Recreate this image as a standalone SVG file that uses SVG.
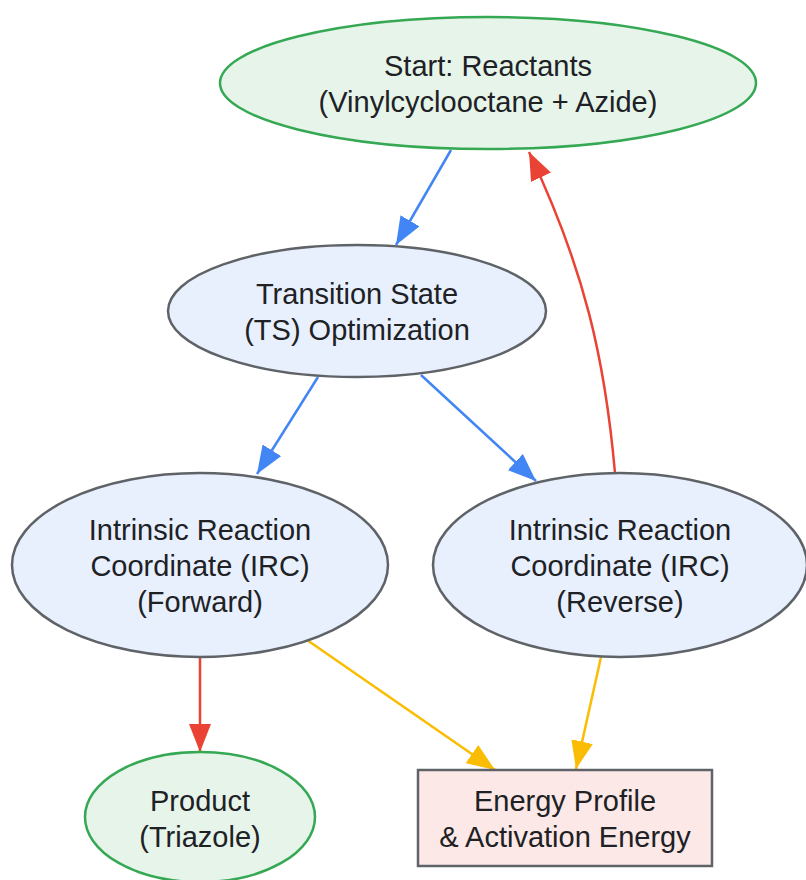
<svg xmlns="http://www.w3.org/2000/svg" width="806" height="880" viewBox="0 0 806 880">
<defs>
<style>
.t{font-family:"Liberation Sans",Arial,sans-serif;font-size:29px;fill:#202124;text-anchor:middle}
.g{fill:#E6F4EA;stroke:#34A853;stroke-width:2.5}
.b{fill:#E8F0FE;stroke:#5F6368;stroke-width:2.5}
.r{fill:#FCE8E6;stroke:#5F6368;stroke-width:2.5}
.e{fill:none;stroke-width:2.5}
.eb{stroke:#4285F4}.er{stroke:#EA4335}.ey{stroke:#FBBC04}
</style>
<marker id="mb" markerUnits="userSpaceOnUse" markerWidth="28" markerHeight="22" refX="28" refY="11" orient="auto"><path d="M0,0 L28,11 L0,22 z" fill="#4285F4"/></marker>
<marker id="mr" markerUnits="userSpaceOnUse" markerWidth="28" markerHeight="22" refX="28" refY="11" orient="auto"><path d="M0,0 L28,11 L0,22 z" fill="#EA4335"/></marker>
<marker id="my" markerUnits="userSpaceOnUse" markerWidth="28" markerHeight="22" refX="28" refY="11" orient="auto"><path d="M0,0 L28,11 L0,22 z" fill="#FBBC04"/></marker>
</defs>
<rect width="806" height="880" fill="#fff"/>
<g id="connectors">
<path class="e eb" d="M451,150 L396,245" marker-end="url(#mb)"/>
<path class="e eb" d="M318,377 L257,474" marker-end="url(#mb)"/>
<path class="e eb" d="M421,375 L536,481" marker-end="url(#mb)"/>
<path class="e er" d="M615,473 C605,360 585,270 529,152" marker-end="url(#mr)"/>
<path class="e er" d="M200,657 L200,752" marker-end="url(#mr)"/>
<path class="e ey" d="M307,640 L495,770" marker-end="url(#my)"/>
<path class="e ey" d="M601,657 L576,769" marker-end="url(#my)"/>
</g>
<g id="start"><ellipse class="g" cx="488" cy="83" rx="268" ry="66"/><text class="t" x="488" y="76">Start: Reactants</text><text class="t" x="488" y="112">(Vinylcyclooctane + Azide)</text></g>
<g id="ts"><ellipse class="b" cx="357" cy="311" rx="189" ry="66"/><text class="t" x="357" y="304">Transition State</text><text class="t" x="357" y="340">(TS) Optimization</text></g>
<g id="ircf"><ellipse class="b" cx="200" cy="565" rx="188" ry="92"/><text class="t" x="200" y="540">Intrinsic Reaction</text><text class="t" x="200" y="576">Coordinate (IRC)</text><text class="t" x="200" y="612">(Forward)</text></g>
<g id="ircr"><ellipse class="b" cx="620" cy="565" rx="187" ry="92"/><text class="t" x="620" y="540">Intrinsic Reaction</text><text class="t" x="620" y="576">Coordinate (IRC)</text><text class="t" x="620" y="612">(Reverse)</text></g>
<g id="product"><ellipse class="g" cx="200" cy="817" rx="115" ry="65"/><text class="t" x="200" y="811">Product</text><text class="t" x="200" y="847">(Triazole)</text></g>
<g id="energy"><rect class="r" x="418" y="770" width="294" height="96"/><text class="t" x="565" y="811">Energy Profile</text><text class="t" x="565" y="847">&amp; Activation Energy</text></g>
</svg>
